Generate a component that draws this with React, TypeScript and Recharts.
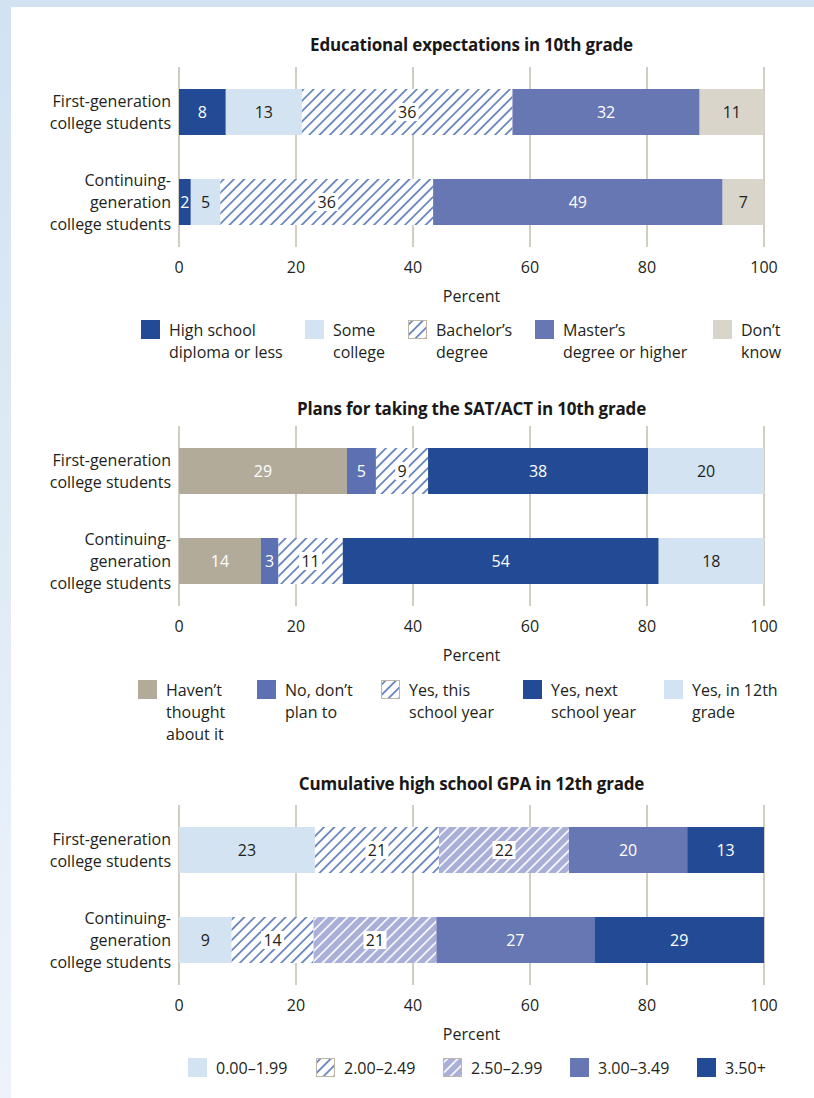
import React from "react";
import { BarChart, Bar, XAxis, YAxis, CartesianGrid, LabelList } from "recharts";

// ---- data ----
const groups = ["First-generation\ncollege students", "Continuing-\ngeneration\ncollege students"];
const percentTicks = [0, 20, 40, 60, 80, 100];

const expectationTitle = "Educational expectations in 10th grade";
const expectationSeries = ["High school\ndiploma or less", "Some\ncollege", "Bachelor’s\ndegree", "Master’s\ndegree or higher", "Don’t\nknow"];
const expectationFirstGen = [8, 13, 36, 32, 11];
const expectationContinuing = [2, 5, 36, 49, 7];

const satTitle = "Plans for taking the SAT/ACT in 10th grade";
const satSeries = ["Haven’t\nthought\nabout it", "No, don’t\nplan to", "Yes, this\nschool year", "Yes, next\nschool year", "Yes, in 12th\ngrade"];
const satFirstGen = [29, 5, 9, 38, 20];
const satContinuing = [14, 3, 11, 54, 18];

const gpaTitle = "Cumulative high school GPA in 12th grade";
const gpaSeries = ["0.00–1.99", "2.00–2.49", "2.50–2.99", "3.00–3.49", "3.50+"];
const gpaFirstGen = [23, 21, 22, 20, 13];
const gpaContinuing = [9, 14, 21, 27, 29];

// ---- styles ----
const font = "'Open Sans', sans-serif";
const ink = "#231f20";
const gridColor = "#c3bdae";
const darkBlue = "#234b95";
const paleBlue = "#d3e3f2";
const midBlue = "#6777b3";
const HATCH = "url(#hatchBlue)";
const LAVENDER = "url(#hatchLavender)";
const textSize = 16;

const panels = [
  {
    key: "edu",
    title: expectationTitle,
    series: expectationSeries,
    values: [expectationFirstGen, expectationContinuing],
    fills: [darkBlue, paleBlue, HATCH, midBlue, "#d9d5ca"],
    textColors: ["#fff", ink, ink, "#fff", ink],
    boxed: [false, false, true, false, false],
    titleY: 45,
    plotTop: 67,
    legendY: 330,
    legendLefts: [141, 305, 408, 535, 713],
  },
  {
    key: "sat",
    title: satTitle,
    series: satSeries,
    values: [satFirstGen, satContinuing],
    fills: ["#b2ab99", "#5d70b1", HATCH, darkBlue, paleBlue],
    textColors: ["#fff", "#fff", ink, "#fff", ink],
    boxed: [false, false, true, false, false],
    titleY: 409,
    plotTop: 426,
    legendY: 690,
    legendLefts: [138, 257, 381, 523, 664],
  },
  {
    key: "gpa",
    title: gpaTitle,
    series: gpaSeries,
    values: [gpaFirstGen, gpaContinuing],
    fills: [paleBlue, HATCH, LAVENDER, midBlue, darkBlue],
    textColors: [ink, ink, ink, "#fff", "#fff"],
    boxed: [false, true, true, false, false],
    titleY: 784,
    plotTop: 805,
    legendY: 1068,
    legendLefts: [188, 316, 443, 570, 697],
  },
];

const CategoryTick = (props: any) => {
  const { x, y, payload } = props;
  const lines = String(payload.value).split("\n");
  const top = y - ((lines.length - 1) * 22) / 2;
  return (
    <g>
      {lines.map((l, i) => (
        <text key={i} x={x} y={top + i * 22} dy="0.35em" textAnchor="end" fill={ink} fontSize={textSize} fontFamily={font}>
          {l}
        </text>
      ))}
    </g>
  );
};

const makeLabel = (color: string, boxed: boolean) => (p: any) => {
  const vb = p.viewBox || {};
  const x = Number(p.x ?? vb.x);
  const y = Number(p.y ?? vb.y);
  const w = Number(p.width ?? vb.width);
  const h = Number(p.height ?? vb.height);
  if (p.value == null || isNaN(x)) return null;
  const txt = String(p.value);
  const cx = x + w / 2;
  const cy = y + h / 2;
  const bw = txt.length * 9.5 + 4;
  return (
    <g>
      {boxed && <rect x={cx - bw / 2} y={cy - 9} width={bw} height={18} fill="#fff" />}
      <text x={cx} y={cy} dy="0.35em" textAnchor="middle" fill={color} fontSize={textSize} fontFamily={font}>
        {txt}
      </text>
    </g>
  );
};

const Swatch = ({ fill }: { fill: string }) => (
  <svg width={19} height={19} style={{ position: "absolute", left: 0, top: 1 }}>
    <rect
      x={0.5}
      y={0.5}
      width={18}
      height={18}
      fill={fill}
      stroke={fill.startsWith("url") ? "#bdb6a6" : fill}
      strokeWidth={1}
    />
  </svg>
);

const Panel = ({ cfg }: { cfg: (typeof panels)[number] }) => {
  const rows = groups.map((g, gi) => {
    const row: any = { name: g };
    cfg.series.forEach((_, si) => (row[`s${si}`] = cfg.values[gi][si]));
    return row;
  });
  const marginTop = 10;
  return (
    <>
      <div
        style={{
          position: "absolute",
          left: 129,
          width: 685,
          top: cfg.titleY - 11,
          lineHeight: "22px",
          textAlign: "center",
          fontFamily: font,
          fontWeight: 700,
          fontSize: 17,
          letterSpacing: -0.2,
          color: "#1a1718",
        }}
      >
        {cfg.title}
      </div>
      <div style={{ position: "absolute", left: 0, top: cfg.plotTop - marginTop }}>
        <BarChart
          width={814}
          height={260}
          data={rows}
          layout="vertical"
          stackOffset="expand"
          barCategoryGap={0}
          margin={{ top: marginTop, right: 50, left: 0, bottom: 0 }}
        >
          <CartesianGrid horizontal={false} stroke={gridColor} strokeWidth={1.5} />
          <XAxis
            type="number"
            domain={[0, 1]}
            ticks={percentTicks.map((t) => t / 100)}
            tickFormatter={(v) => String(Math.round(v * 100))}
            axisLine={false}
            tickLine={false}
            tickMargin={9}
            height={70}
            tick={{ fill: ink, fontSize: textSize, fontFamily: font }}
            label={{ value: "Percent", position: "insideTop", offset: 44, fill: ink, fontSize: textSize, fontFamily: font }}
          />
          <YAxis type="category" dataKey="name" width={179} axisLine={false} tickLine={false} tick={<CategoryTick />} />
          {cfg.series.map((s, si) => (
            <Bar key={s} dataKey={`s${si}`} name={s} stackId="a" fill={cfg.fills[si]} barSize={46} isAnimationActive={false}>
              <LabelList dataKey={`s${si}`} content={makeLabel(cfg.textColors[si], cfg.boxed[si])} />
            </Bar>
          ))}
        </BarChart>
      </div>
      {cfg.series.map((s, si) => (
        <div
          key={s}
          style={{
            position: "absolute",
            left: cfg.legendLefts[si],
            top: cfg.legendY - 11,
            paddingLeft: 28,
            fontFamily: font,
            fontSize: textSize,
            lineHeight: "22px",
            color: ink,
            whiteSpace: "pre",
          }}
        >
          <Swatch fill={cfg.fills[si]} />
          {s}
        </div>
      ))}
    </>
  );
};

export default function App() {
  return (
    <div
      style={{
        position: "absolute",
        left: 0,
        top: 0,
        width: 814,
        height: 1098,
        overflow: "hidden",
        background: "linear-gradient(to bottom, #d2e2f1, #eef3fa)",
      }}
    >
      <svg width={0} height={0} style={{ position: "absolute" }}>
        <defs>
          <pattern id="hatchBlue" width={7.3} height={7.3} patternUnits="userSpaceOnUse" patternTransform="rotate(45)">
            <rect width={7.3} height={7.3} fill="#fff" />
            <line x1={3.65} y1={0} x2={3.65} y2={7.3} stroke="#2f58a6" strokeWidth={1.3} />
          </pattern>
          <pattern id="hatchLavender" width={7.3} height={7.3} patternUnits="userSpaceOnUse" patternTransform="rotate(45)">
            <rect width={7.3} height={7.3} fill="#a9afd7" />
            <line x1={3.65} y1={0} x2={3.65} y2={7.3} stroke="#fff" strokeWidth={1.6} />
          </pattern>
        </defs>
      </svg>
      <div style={{ position: "absolute", left: 11, top: 7, right: 0, bottom: 0, background: "#fff" }}>
        <div style={{ position: "absolute", left: -11, top: -7, width: 814, height: 1098 }}>
          {panels.map((cfg) => (
            <Panel key={cfg.key} cfg={cfg} />
          ))}
        </div>
      </div>
    </div>
  );
}
